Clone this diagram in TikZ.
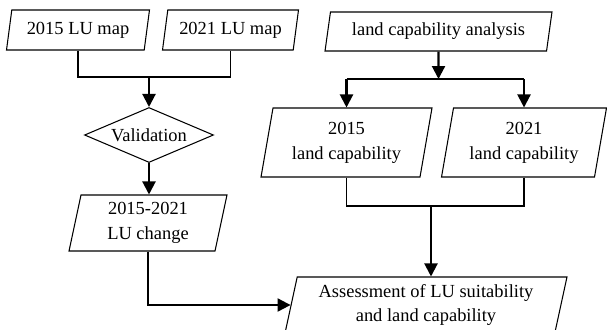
\documentclass[tikz,border=0pt]{standalone}
\usepackage{fontspec}
\setmainfont{Liberation Serif}
\usetikzlibrary{shapes.geometric,arrows.meta}

\begin{document}
\begin{tikzpicture}[x=0.02cm,y=-0.02cm,
    font=\fontsize{10.5}{14.2}\selectfont,
    data/.style={draw,line width=0.6pt,trapezium,trapezium left angle=75,
      trapezium right angle=105,trapezium stretches body,inner sep=1pt,align=center},
    check/.style={draw,line width=0.6pt,diamond,aspect=2.35,inner sep=1pt},
    link/.style={line width=0.6pt},
    flow/.style={line width=1.2pt,-{Triangle[width=0.26cm,length=0.26cm]}}]
  \useasboundingbox (0,0) rectangle (607,329);

  % left column
  \node[data,minimum width=2.86cm,minimum height=0.8cm] (map15) at (78,30) {2015 LU map};
  \node[data,minimum width=2.72cm,minimum height=0.8cm] (map21) at (230.5,30) {2021 LU map};
  \node[check,minimum width=2.58cm,minimum height=1.1cm] (valid) at (149,135) {Validation};
  \node[data,minimum width=3.16cm,minimum height=1.12cm] (change) at (148,223) {2015-2021\\LU change};

  % right column
  \node[data,minimum width=4.54cm,minimum height=0.78cm] (lca) at (438.5,31.5) {land capability analysis};
  \node[data,minimum width=3.42cm,minimum height=1.38cm] (cap15) at (346.5,142.5) {2015\\land capability};
  \node[data,minimum width=3.3cm,minimum height=1.38cm] (cap21) at (524,142.5) {2021\\land capability};
  \node[data,minimum width=5.64cm,minimum height=1.12cm] (assess) at (426,305) {Assessment of LU suitability\\and land capability};

  \coordinate (j1) at (149,77);
  \coordinate (j2) at (438.5,79);
  \coordinate (j3) at (431,206);

  \draw[link] (map15.south) |- (j1) -| (map21.south);
  \draw[flow] (j1) -- (valid.north);
  \draw[flow] (valid.south) -- (valid.south |- change.north);
  \draw[flow] (change.south) |- (assess.west);

  \draw[flow] (lca.south) -- (j2);
  \draw[link] (cap15.north |- j2) -- (cap21.north |- j2);
  \draw[flow] (cap15.north |- j2) -- (cap15.north);
  \draw[flow] (cap21.north |- j2) -- (cap21.north);
  \draw[link] (cap15.south) |- (j3) -| (cap21.south);
  \draw[flow] (j3) -- (j3 |- assess.north);
\end{tikzpicture}
\end{document}
